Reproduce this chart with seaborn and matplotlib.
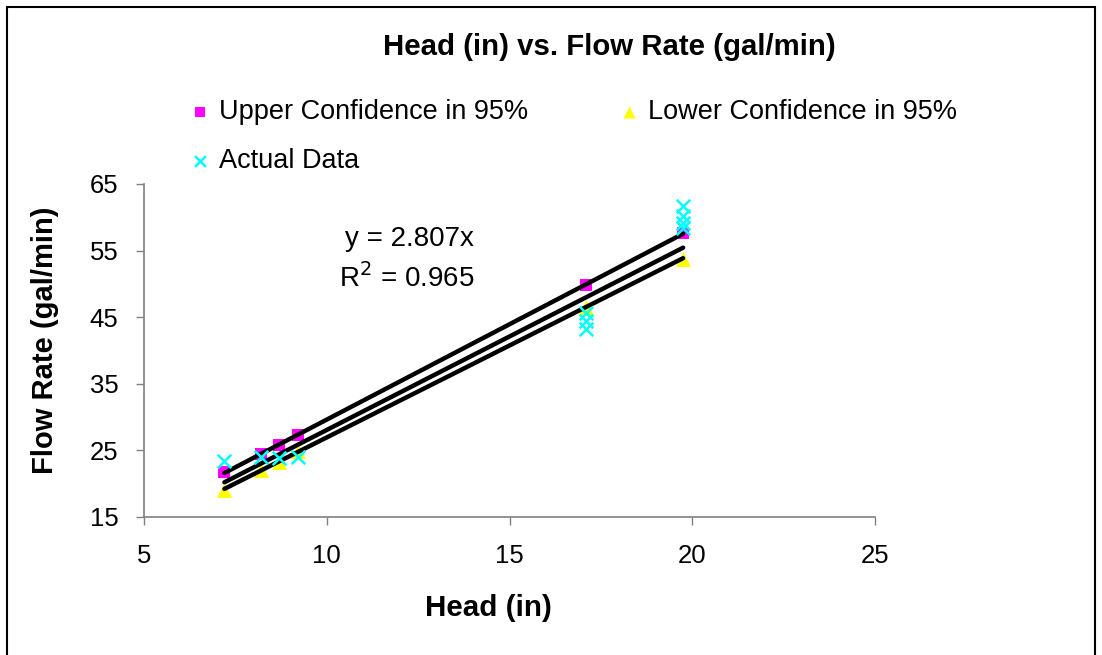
import numpy as np
import pandas as pd
import matplotlib
matplotlib.use('Agg')
import matplotlib.pyplot as plt
from matplotlib.patches import Rectangle
import seaborn as sns

# values
head = [7.2, 8.2, 8.7, 9.2, 17.1, 19.75]
upper_conf = [21.8, 24.4, 25.8, 27.3, 49.9, 57.6]
lower_conf = [19.1, 22.1, 23.2, 24.9, 46.6, 53.8]

actual_head = [7.2, 8.2, 8.7, 9.2, 17.1, 17.1, 17.1, 19.75, 19.75, 19.75, 19.75]
actual_flow = [23.4, 24.0, 23.8, 24.0, 45.7, 44.5, 43.3, 61.7, 60.2, 59.1, 58.4]

slope = 2.807
r_squared = 0.965

x_ticks = [5, 10, 15, 20, 25]
y_ticks = [15, 25, 35, 45, 55, 65]

sns.set_style('white')
plt.rcParams['font.family'] = ['Liberation Sans', 'DejaVu Sans']
plt.rcParams['text.color'] = 'black'
plt.rcParams['axes.labelcolor'] = 'black'
plt.rcParams['xtick.color'] = 'black'
plt.rcParams['ytick.color'] = 'black'

fig = plt.figure(figsize=(11.02, 6.55), dpi=100)
ax = fig.add_axes([144 / 1102, 1 - 517 / 655, (875 - 144) / 1102, (517 - 184) / 655])

# trend lines (middle = fitted line through origin, outer = fits of the confidence points)
xs = np.array([min(head), max(head)])
up_fit = np.polyfit(head, upper_conf, 1)
lo_fit = np.polyfit(head, lower_conf, 1)
lines = pd.DataFrame({
    'x': np.concatenate([xs, xs, xs]),
    'y': np.concatenate([np.polyval(up_fit, xs), slope * xs, np.polyval(lo_fit, xs)]),
    'which': ['up', 'up', 'mid', 'mid', 'lo', 'lo'],
})
sns.lineplot(data=lines, x='x', y='y', units='which', estimator=None, color='black',
             linewidth=3.2, ax=ax, zorder=3, legend=False)

sns.scatterplot(x=head, y=upper_conf, marker='s', color='#FF00FF', s=85, linewidth=0,
                ax=ax, zorder=2, label='Upper Confidence in 95%')
sns.scatterplot(x=actual_head, y=actual_flow, marker='x', color='#00FFFF', s=95, linewidth=1.8,
                ax=ax, zorder=4, label='Actual Data')
sns.scatterplot(x=head, y=lower_conf, marker='^', color='#FFFF00', s=115, linewidth=0,
                ax=ax, zorder=2, label='Lower Confidence in 95%')

ax.set_xlim(5, 25)
ax.set_ylim(15, 65)
ax.set_xticks(x_ticks)
ax.set_yticks(y_ticks)
ax.tick_params(axis='both', labelsize=18.5, direction='out', length=5.5, width=1, color='#808080',
               left=True, bottom=True)
ax.tick_params(axis='y', pad=13)
ax.tick_params(axis='x', pad=14)
for side in ['top', 'right']:
    ax.spines[side].set_visible(False)
for side in ['left', 'bottom']:
    ax.spines[side].set_color('#808080')
    ax.spines[side].set_linewidth(1.2)

ax.set_xlabel('Head (in)', fontsize=21.3, fontweight='bold')
ax.set_ylabel('Flow Rate (gal/min)', fontsize=21, fontweight='bold')
ax.xaxis.set_label_coords((488 - 144) / 731, (517 - 608) / 333)
ax.yaxis.set_label_coords((45 - 144) / 731, (517 - 340) / 333)
ax.xaxis.label.set_va('center')
ax.yaxis.label.set_va('center')

ax.text(12.25, 56.75, f'y = {slope}x', fontsize=20, ha='center', va='center')
ax.text(12.2, 50.95, f'R$^2$ = {r_squared}', fontsize=20, ha='center', va='center')

fig.text(609 / 1102, 1 - 47 / 655, 'Head (in) vs. Flow Rate (gal/min)', fontsize=21.2,
         fontweight='bold', ha='center', va='center')

handles, labels = ax.get_legend_handles_labels()
ax.get_legend().remove()
fig.legend(handles, labels, ncol=2, loc='upper left', bbox_to_anchor=(189.5 / 1102, 1 - 99 / 655),
           frameon=False, fontsize=19.5, handlelength=0.8, handletextpad=0.28, columnspacing=3.35,
           labelspacing=0.85, borderpad=0, borderaxespad=0, markerscale=0.8)

fig.patches.append(Rectangle((7 / 1102, -0.02), 1088 / 1102, 1 - 7 / 655 + 0.02,
                             transform=fig.transFigure, fill=False, edgecolor='black', linewidth=1.5))

fig.savefig('out.png', dpi=100)
